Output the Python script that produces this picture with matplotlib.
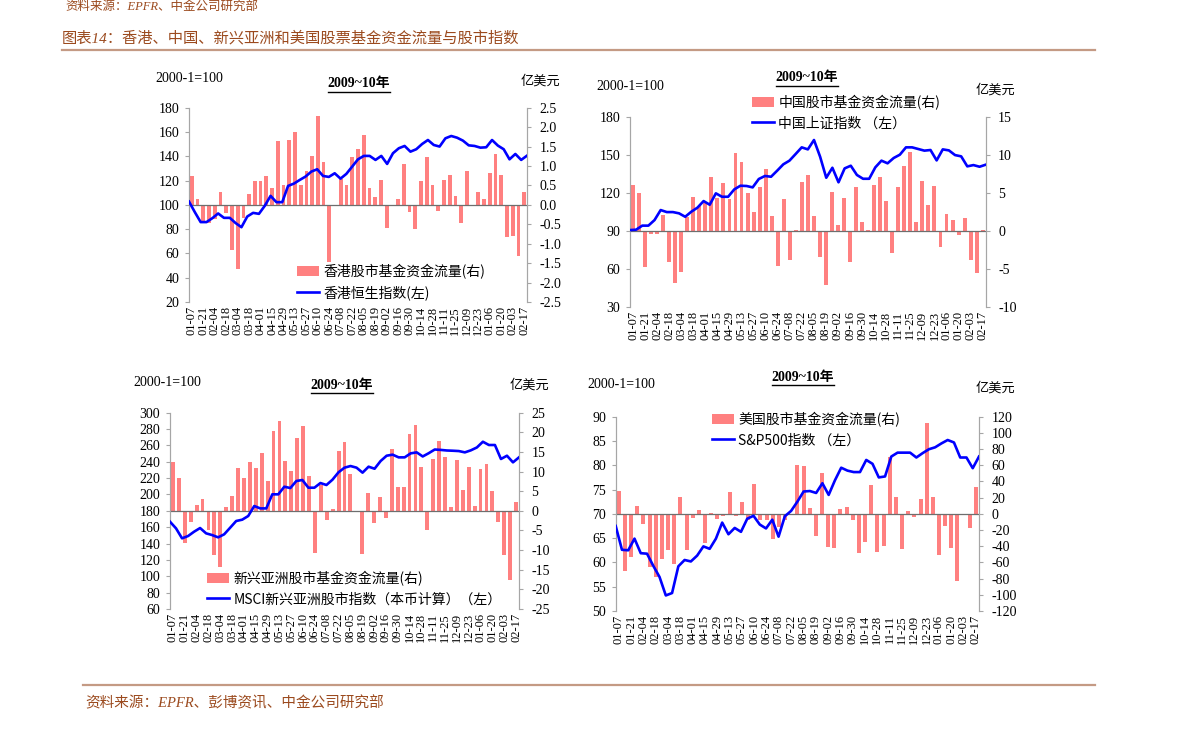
import numpy as np
import matplotlib.pyplot as plt
from matplotlib.lines import Line2D
from matplotlib.patches import Patch

W, H = 1191, 731
SERIF = ['Liberation Serif', 'Noto Sans CJK SC']
CJK = ['Noto Sans CJK SC', 'DejaVu Sans']
BAR_C = '#FF8080'
LINE_C = '#0000FF'
BROWN = '#9B4A1E'

# every other week label, 2009-01-07 .. 2010-02-17 (59 weekly points)
tick_labels = ['01-07', '01-21', '02-04', '02-18', '03-04', '03-18', '04-01', '04-15',
               '04-29', '05-13', '05-27', '06-10', '06-24', '07-08', '07-22', '08-05',
               '08-19', '09-02', '09-16', '09-30', '10-14', '10-28', '11-11', '11-25',
               '12-09', '12-23', '01-06', '01-20', '02-03', '02-17']

# Hong Kong
hk_flow = [0.74, 0.16, -0.47, -0.47, -0.37, 0.33, -0.20, -1.16, -1.64, -0.33,
           0.27, 0.61, 0.61, 0.75, 0.43, 1.64, 0.51, 1.66, 1.88, 0.51,
           0.86, 1.26, 2.29, 1.10, -1.46, -0.02, 0.67, 0.52, 1.23, 1.43,
           1.79, 0.44, 0.21, 0.64, -0.60, -0.04, 0.15, 1.04, -0.19, -0.62,
           0.62, 1.22, 0.50, -0.17, 0.64, 0.76, 0.23, -0.47, 0.87, -0.01,
           0.34, 0.16, 0.83, 1.31, 0.76, -0.83, -0.81, -1.31, 0.32]
hk_index = [102.7, 94.0, 85.8, 85.8, 89.0, 92.9, 89.3, 89.3, 85.0, 81.6,
            90.4, 93.4, 92.6, 99.2, 107.4, 102.2, 102.2, 115.6, 117.5, 120.5,
            123.3, 127.4, 129.3, 123.8, 123.0, 126.0, 121.6, 125.5, 131.5, 137.5,
            140.3, 140.3, 137.0, 140.3, 133.7, 142.5, 146.6, 148.5, 143.8, 145.8,
            150.1, 153.4, 149.3, 148.0, 154.8, 156.7, 155.3, 152.9, 149.0, 148.5,
            147.1, 147.4, 153.4, 148.8, 145.8, 137.5, 141.9, 137.0, 140.5]

# China
cn_flow = [6.0, 5.0, -4.8, -0.45, -0.45, 2.0, -4.1, -6.9, -5.4, 1.85,
           4.4, 3.2, 3.6, 7.0, 4.3, 6.3, 4.2, 10.2, 9.0, 4.9,
           2.5, 5.7, 8.1, 1.9, -4.6, 4.2, -3.9, 0.15, 6.4, 7.3,
           1.9, -3.4, -7.2, 5.1, 0.75, 4.3, -4.1, 5.7, 1.1, 0.15,
           6.0, 7.0, 3.9, -2.9, 5.8, 8.5, 10.3, 1.2, 6.5, 3.4,
           5.9, -2.1, 2.2, 1.4, -0.6, 1.7, -3.9, -5.6, 0.1]
cn_index = [90.5, 90.8, 94.0, 94.0, 98.4, 106.3, 104.7, 104.7, 103.7, 101.0,
            105.0, 108.2, 113.4, 110.5, 119.5, 116.8, 116.8, 122.6, 125.5, 125.3,
            124.2, 130.8, 133.2, 132.6, 137.4, 142.4, 145.3, 150.5, 155.8, 154.2,
            161.6, 148.4, 131.8, 139.7, 128.2, 139.2, 141.3, 134.0, 131.0, 131.0,
            140.0, 145.3, 143.2, 147.4, 150.0, 155.8, 155.8, 154.5, 153.2, 153.7,
            145.5, 154.2, 153.4, 149.7, 148.7, 140.8, 141.8, 140.5, 142.1]

# Emerging Asia
em_flow = [12.4, 8.3, -8.2, -2.8, 1.5, 2.9, -4.9, -11.2, -14.4, 1.0,
           3.9, 10.9, 8.3, 12.4, 10.9, 14.8, 7.6, 20.4, 22.8, 12.7,
           10.2, 18.5, 21.6, 8.8, -10.8, 6.6, -2.3, 0.5, 15.2, 17.5,
           9.5, -0.2, -11.1, 4.5, -3.0, 3.6, -1.9, 15.7, 6.1, 6.1,
           19.6, 21.9, 11.2, -5.0, 13.1, 17.8, 13.6, 1.0, 12.9, 5.3,
           11.2, 1.2, 10.7, 11.9, 5.1, -2.8, -11.2, -17.7, 2.2]
em_index = [166.7, 158.6, 146.4, 149.2, 154.5, 159.0, 152.5, 150.4, 147.6, 151.3,
            159.4, 167.6, 169.2, 173.7, 185.9, 183.0, 183.0, 200.2, 200.2, 209.5,
            207.9, 216.5, 217.7, 208.3, 208.3, 214.0, 211.6, 218.1, 227.1, 232.8,
            234.8, 232.8, 226.7, 234.0, 231.5, 240.9, 247.4, 248.7, 245.4, 245.4,
            250.3, 251.5, 246.5, 250.5, 255.0, 254.5, 253.8, 253.5, 253.1, 251.5,
            254.0, 257.5, 264.5, 260.5, 260.5, 243.4, 247.4, 239.3, 245.4]

# US
us_flow = [28.6, -70.7, -53.4, 9.9, -12.5, -65.5, -77.5, -55.9, -45.0, -61.8,
           20.8, -45.0, -5.1, 4.5, -36.2, 1.4, -6.6, -3.0, 27.1, -3.0,
           15.0, -8.0, 36.8, -7.4, -7.0, -31.6, -16.0, -7.0, -2.0, 60.8,
           59.4, 7.8, -26.9, 49.9, -41.3, -42.3, 6.6, 8.8, -7.8, -48.5,
           -34.3, 35.3, -47.5, -40.3, 70.1, 21.0, -43.6, 3.9, -4.1, 18.3,
           112.2, 21.0, -51.0, -14.8, -42.7, -83.4, -1.2, -17.5, 32.9]
us_index = [67.5, 62.6, 62.5, 64.9, 61.9, 61.8, 59.3, 57.0, 53.2, 53.7,
            59.2, 60.5, 60.2, 61.4, 63.3, 62.8, 64.9, 68.2, 65.8, 67.1,
            66.3, 69.0, 69.6, 67.8, 67.0, 68.8, 65.3, 69.5, 70.6, 72.5,
            74.6, 74.7, 74.3, 76.3, 73.9, 76.9, 79.5, 78.9, 78.6, 78.6,
            81.1, 80.3, 77.5, 77.7, 81.8, 82.6, 82.6, 82.6, 81.6, 82.5,
            83.3, 83.7, 84.5, 85.2, 84.7, 81.6, 81.6, 79.4, 81.8]

fig = plt.figure(figsize=(W / 100, H / 100), dpi=100)


def fx(x):
    return x / W


def fy(y):
    return 1 - y / H


def panel(rect, flow, index, lticks, rticks, rfmt, legend_labels,
          leg_xy, notes):
    l, t, r, b = rect
    ax = fig.add_axes([fx(l), fy(b), fx(r - l), (b - t) / H])
    ax2 = ax.twinx()
    n = len(flow)
    xb = np.arange(n)
    ax2.bar(xb, flow, width=0.65, color=BAR_C, zorder=2)
    ax2.axhline(0, color='#6E6E6E', lw=0.9, zorder=3)
    xl = np.linspace(-0.5, n - 0.5, len(index))
    ax.plot(xl, index, color=LINE_C, lw=1.9, zorder=4)
    ax.set_zorder(ax2.get_zorder() + 1)
    ax.patch.set_visible(False)

    ax.set_xlim(-0.5, n - 0.5)
    ax.set_ylim(lticks[0], lticks[-1])
    ax2.set_ylim(rticks[0], rticks[-1])
    ax.set_yticks(lticks)
    ax2.set_yticks(rticks)
    ax2.set_yticklabels([rfmt % v for v in rticks])
    ax.set_xticks(xb[::2])
    ax.set_xticklabels(tick_labels, rotation=90, fontsize=9, family=SERIF)
    ax.tick_params(axis='x', length=0, pad=3)
    ax.tick_params(axis='y', length=3, width=0.8, color='#A6A6A6', pad=4,
                   labelsize=10)
    ax2.tick_params(axis='y', length=3, width=0.8, color='#A6A6A6', pad=6,
                    labelsize=10)
    for a in (ax, ax2):
        for lab in a.get_yticklabels():
            lab.set_family(SERIF)
        for s in ('top', 'bottom'):
            a.spines[s].set_visible(False)
        a.spines['left'].set_color('#A6A6A6')
        a.spines['right'].set_color('#A6A6A6')
        a.spines['left'].set_linewidth(0.8)
        a.spines['right'].set_linewidth(0.8)

    handles = [Patch(facecolor=BAR_C, edgecolor='none'),
               Line2D([], [], color=LINE_C, lw=1.9)]
    lx, ly = leg_xy
    fig.legend(handles, legend_labels, loc='upper left',
               bbox_to_anchor=(fx(lx), fy(ly)), bbox_transform=fig.transFigure,
               frameon=False, borderpad=0, borderaxespad=0,
               handlelength=1.6, handletextpad=0.3, labelspacing=0.45,
               prop={'family': CJK, 'size': 10})

    (ux, uy), (tx, ty), (yx, yy) = notes
    fig.text(fx(ux), fy(uy), '2000-1=100', ha='left', va='center',
             family=SERIF, fontsize=10)
    tt = fig.text(fx(tx), fy(ty), '2009~10年', ha='center', va='center',
                  family=SERIF, fontsize=10, fontweight='bold')
    fig.text(fx(yx), fy(yy), '亿美元', ha='center', va='center',
             family=CJK, fontsize=9.5)
    return tt


titles = []
titles.append(panel((189, 107.7, 527, 302), hk_flow, hk_index,
                    np.arange(20, 181, 20), np.arange(-2.5, 2.51, 0.5), '%.1f',
                    ['香港股市基金资金流量(右)', '香港恒生指数(左)'],
                    (297, 264), ((155, 79), (359, 84), (540, 81))))
titles.append(panel((630, 116.7, 985.7, 306.7), cn_flow, cn_index,
                    np.arange(30, 181, 30), np.arange(-10, 16, 5), '%d',
                    ['中国股市基金资金流量(右)', '中国上证指数 （左）'],
                    (752, 95), ((596, 86), (807, 78), (995, 90))))
titles.append(panel((170, 412.7, 519, 609), em_flow, em_index,
                    np.arange(60, 301, 20), np.arange(-25, 26, 5), '%d',
                    ['新兴亚洲股市基金资金流量(右)', 'MSCI新兴亚洲股市指数（本币计算）（左）'],
                    (207, 571), ((133, 383), (342, 385), (529, 385))))
titles.append(panel((615.7, 416.7, 979, 611), us_flow, us_index,
                    np.arange(50, 91, 5), np.arange(-120, 121, 20), '%d',
                    ['美国股市基金资金流量(右)', 'S&P500指数 （左）'],
                    (712, 412), ((587, 385), (803, 377), (995, 388))))

# header / footer
fig.text(fx(65), fy(7), '资料来源：EPFR、中金公司研究部', ha='left', va='center',
         family=SERIF, style='italic', fontsize=9, color=BROWN)
fig.text(fx(62), fy(38), '图表14：香港、中国、新兴亚洲和美国股票基金资金流量与股市指数',
         ha='left', va='center', family=SERIF, style='italic', fontsize=11,
         color=BROWN)
fig.add_artist(Line2D([fx(62), fx(1095)], [fy(50), fy(50)], color='#C49A84', lw=1.6))
fig.add_artist(Line2D([fx(83), fx(1095)], [fy(685), fy(685)], color='#C49A84', lw=1.6))
fig.text(fx(85), fy(703), '资料来源：EPFR、彭博资讯、中金公司研究部', ha='left',
         va='center', family=SERIF, style='italic', fontsize=10.5, color=BROWN)

# underline the sub titles
fig.canvas.draw()
rend = fig.canvas.get_renderer()
for tt in titles:
    bb = tt.get_window_extent(rend).transformed(fig.transFigure.inverted())
    fig.add_artist(Line2D([bb.x0, bb.x1], [bb.y0 - 0.002, bb.y0 - 0.002],
                          color='black', lw=1.0))

fig.savefig('out.png', dpi=100)
